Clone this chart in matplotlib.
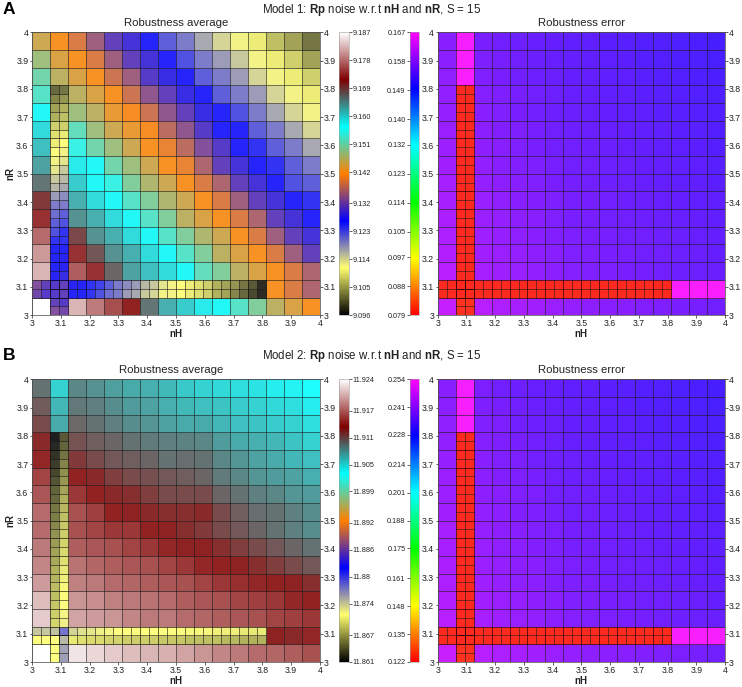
import numpy as np
import matplotlib
matplotlib.use('Agg')
import matplotlib.pyplot as plt
from matplotlib.cm import ScalarMappable
from matplotlib.colors import LinearSegmentedColormap, Normalize

plt.rcParams['font.family'] = ['Liberation Sans', 'DejaVu Sans']
plt.rcParams['mathtext.fontset'] = 'custom'
plt.rcParams['mathtext.bf'] = 'Liberation Sans:bold'
plt.rcParams['mathtext.rm'] = 'Liberation Sans'

n = np.nan

# coarse cells, rows from nR = 4 down to nR = 3, nan where the cell is refined
avg1 = [
    [9.145, 9.142, 9.139, 9.135, 9.131, 9.129, 9.126, 9.122, 9.120, 9.117, 9.114, 9.112, 9.110, 9.107, 9.105, 9.102],
    [9.148, 9.144, 9.142, 9.139, 9.135, 9.131, 9.129, 9.126, 9.123, 9.120, 9.118, 9.115, 9.112, 9.110, 9.108, 9.105],
    [9.151, 9.146, 9.144, 9.142, 9.138, 9.135, 9.130, 9.128, 9.126, 9.122, 9.120, 9.118, 9.114, 9.112, 9.110, 9.108],
    [9.153, n, 9.146, 9.144, 9.142, 9.138, 9.134, 9.131, 9.128, 9.126, 9.122, 9.120, 9.118, 9.114, 9.112, 9.110],
    [9.157, n, 9.148, 9.146, 9.143, 9.141, 9.138, 9.134, 9.131, 9.128, 9.126, 9.123, 9.120, 9.117, 9.114, 9.112],
    [9.159, n, 9.152, 9.148, 9.145, 9.143, 9.141, 9.137, 9.134, 9.130, 9.126, 9.126, 9.122, 9.120, 9.117, 9.114],
    [9.161, n, 9.155, 9.151, 9.148, 9.145, 9.142, 9.140, 9.137, 9.133, 9.130, 9.126, 9.125, 9.122, 9.120, 9.117],
    [9.163, n, 9.158, 9.157, 9.151, 9.148, 9.145, 9.142, 9.140, 9.136, 9.131, 9.129, 9.126, 9.125, 9.122, 9.120],
    [9.166, n, 9.160, 9.157, 9.155, 9.150, 9.147, 9.145, 9.142, 9.139, 9.136, 9.131, 9.129, 9.126, 9.123, 9.122],
    [9.170, n, 9.162, 9.159, 9.157, 9.153, 9.150, 9.147, 9.145, 9.142, 9.139, 9.135, 9.131, 9.129, 9.126, 9.125],
    [9.173, n, 9.164, 9.162, 9.159, 9.157, 9.153, 9.150, 9.146, 9.144, 9.142, 9.139, 9.136, 9.131, 9.129, 9.126],
    [9.177, n, 9.169, 9.164, 9.162, 9.159, 9.157, 9.153, 9.150, 9.147, 9.145, 9.142, 9.139, 9.135, 9.131, 9.129],
    [9.180, n, 9.173, 9.168, 9.164, 9.162, 9.159, 9.157, 9.153, 9.150, 9.146, 9.144, 9.142, 9.139, 9.135, 9.131],
    [9.182, n, 9.176, 9.173, 9.167, 9.163, 9.161, 9.159, 9.157, 9.152, 9.150, 9.146, 9.144, 9.142, 9.139, 9.136],
    [n, n, n, n, n, n, n, n, n, n, n, n, n, 9.142, 9.139, 9.136],
    [9.187, n, 9.182, 9.178, 9.175, 9.172, 9.166, 9.162, 9.160, 9.158, 9.157, 9.153, 9.150, 9.146, 9.144, 9.142],
]
# refined row nR 3.0625-3.125, half cells from nH = 3 to 3.8125
avg1_row_top = [9.133, 9.131, 9.130, 9.131, 9.127, 9.126, 9.125, 9.124, 9.122, 9.120, 9.119, 9.118, 9.116,
                9.115, 9.113, 9.112, 9.111, 9.110, 9.109, 9.108, 9.106, 9.105, 9.104, 9.102, 9.100, 9.097]
avg1_row_low = [9.132, 9.130, 9.130, 9.131, 9.126, 9.126, 9.125, 9.123, 9.121, 9.120, 9.118, 9.117, 9.115,
                9.114, 9.112, 9.112, 9.111, 9.110, 9.109, 9.108, 9.106, 9.105, 9.103, 9.101, 9.099, 9.097]
# refined column nH 3.0625-3.125, half cells from nR = 3.8125 down to 3, nan where the row above covers it
avg1_col_l = [9.101, 9.103, 9.105, 9.106, 9.108, 9.109, 9.110, 9.111, 9.112, 9.113, 9.115, 9.116, 9.118,
              9.120, 9.121, 9.122, 9.123, 9.125, 9.126, 9.126, 9.126, 9.127, n, n, 9.131, 9.133]
avg1_col_r = [9.102, 9.104, 9.106, 9.107, 9.108, 9.110, 9.111, 9.112, 9.113, 9.115, 9.116, 9.117, 9.119,
              9.120, 9.122, 9.123, 9.125, 9.125, 9.126, 9.127, 9.127, 9.128, n, n, 9.130, 9.132]

err1 = [
    [.1575, .1660, .1565, .1560, .1555, .1550, .1548, .1545, .1543, .1540, .1538, .1535, .1533, .1530, .1528, .1525],
    [.1578, .1665, .1568, .1562, .1557, .1552, .1550, .1547, .1545, .1542, .1540, .1537, .1535, .1532, .1530, .1527],
    [.1581, .1665, .1570, .1565, .1560, .1555, .1552, .1549, .1547, .1544, .1542, .1539, .1537, .1534, .1532, .1529],
    [.1584, n, .1573, .1567, .1562, .1557, .1554, .1551, .1549, .1546, .1544, .1541, .1539, .1536, .1534, .1531],
    [.1587, n, .1576, .1570, .1565, .1560, .1556, .1553, .1551, .1548, .1546, .1543, .1541, .1538, .1536, .1533],
    [.1590, n, .1578, .1572, .1567, .1562, .1558, .1555, .1553, .1550, .1548, .1545, .1543, .1540, .1538, .1535],
    [.1592, n, .1580, .1575, .1570, .1565, .1560, .1557, .1555, .1552, .1550, .1547, .1545, .1542, .1540, .1537],
    [.1595, n, .1583, .1577, .1572, .1567, .1563, .1559, .1557, .1554, .1552, .1549, .1547, .1544, .1542, .1539],
    [.1598, n, .1585, .1580, .1575, .1570, .1565, .1561, .1559, .1556, .1554, .1551, .1549, .1546, .1544, .1541],
    [.1600, n, .1588, .1582, .1577, .1572, .1567, .1563, .1561, .1558, .1556, .1553, .1551, .1548, .1546, .1543],
    [.1603, n, .1590, .1585, .1580, .1575, .1570, .1565, .1563, .1560, .1558, .1555, .1553, .1550, .1548, .1545],
    [.1606, n, .1593, .1587, .1582, .1577, .1572, .1567, .1565, .1562, .1560, .1557, .1555, .1552, .1550, .1547],
    [.1609, n, .1596, .1590, .1585, .1580, .1575, .1570, .1567, .1564, .1562, .1559, .1557, .1554, .1552, .1549],
    [.1612, n, .1600, .1593, .1588, .1583, .1578, .1573, .1570, .1566, .1564, .1561, .1559, .1556, .1554, .1552],
    [n, n, n, n, n, n, n, n, n, n, n, n, n, .1665, .1665, .1665],
    [.1625, n, .1612, .1606, .1600, .1595, .1590, .1585, .1580, .1577, .1574, .1571, .1568, .1565, .1562, .1560],
]
err1_row_top = [.0800, .0800, .0800, .0800, .0800, .0800, .0800, .0800, .0800, .0800, .0800, .0800, .0800,
                .0800, .0800, .0800, .0800, .0800, .0800, .0800, .0800, .0800, .0800, .0800, .0798, .0798]
err1_row_low = [.0800, .0800, .0800, .0800, .0800, .0800, .0800, .0800, .0800, .0800, .0800, .0800, .0800,
                .0800, .0800, .0800, .0800, .0800, .0800, .0800, .0800, .0800, .0800, .0800, .0798, .0798]
err1_col_l = [.0800, .0800, .0800, .0800, .0800, .0800, .0800, .0800, .0800, .0800, .0800, .0800, .0800,
              .0800, .0800, .0800, .0800, .0800, .0800, .0800, .0800, .0800, n, n, .0805, .0805]
err1_col_r = [.0800, .0800, .0800, .0800, .0800, .0800, .0800, .0800, .0800, .0800, .0800, .0800, .0800,
              .0800, .0800, .0800, .0800, .0800, .0800, .0800, .0800, .0800, n, n, .0805, .0805]

avg2 = [
    [11.9095, 11.9051, 11.9086, 11.9081, 11.9074, 11.9069, 11.9067, 11.9062, 11.9055, 11.9051, 11.9048, 11.9045, 11.9042, 11.9038, 11.9035, 11.9030],
    [11.9106, 11.9064, 11.9093, 11.9089, 11.9083, 11.9076, 11.9073, 11.9067, 11.9062, 11.9060, 11.9057, 11.9054, 11.9051, 11.9048, 11.9045, 11.9038],
    [11.9114, 11.9070, 11.9100, 11.9095, 11.9089, 11.9083, 11.9079, 11.9073, 11.9070, 11.9070, 11.9064, 11.9060, 11.9057, 11.9054, 11.9051, 11.9045],
    [11.9130, n, 11.9110, 11.9105, 11.9101, 11.9095, 11.9092, 11.9089, 11.9088, 11.9086, 11.9076, 11.9070, 11.9067, 11.9064, 11.9057, 11.9051],
    [11.9139, n, 11.9122, 11.9114, 11.9108, 11.9105, 11.9101, 11.9095, 11.9098, 11.9095, 11.9086, 11.9079, 11.9073, 11.9070, 11.9064, 11.9060],
    [11.9152, n, 11.9136, 11.9130, 11.9120, 11.9114, 11.9111, 11.9108, 11.9105, 11.9101, 11.9092, 11.9086, 11.9079, 11.9076, 11.9073, 11.9067],
    [11.9161, n, 11.9146, 11.9136, 11.9130, 11.9127, 11.9120, 11.9114, 11.9114, 11.9114, 11.9101, 11.9095, 11.9089, 11.9086, 11.9079, 11.9076],
    [11.9171, n, 11.9158, 11.9149, 11.9136, 11.9133, 11.9130, 11.9127, 11.9127, 11.9130, 11.9114, 11.9105, 11.9098, 11.9095, 11.9089, 11.9083],
    [11.9171, n, 11.9158, 11.9152, 11.9146, 11.9146, 11.9136, 11.9133, 11.9127, 11.9123, 11.9114, 11.9108, 11.9101, 11.9095, 11.9089, 11.9083],
    [11.9177, n, 11.9164, 11.9161, 11.9158, 11.9152, 11.9146, 11.9139, 11.9133, 11.9133, 11.9127, 11.9120, 11.9114, 11.9108, 11.9101, 11.9095],
    [11.9183, n, 11.9174, 11.9168, 11.9164, 11.9161, 11.9158, 11.9152, 11.9146, 11.9139, 11.9136, 11.9133, 11.9127, 11.9120, 11.9114, 11.9108],
    [11.9193, n, 11.9180, 11.9177, 11.9171, 11.9168, 11.9164, 11.9161, 11.9158, 11.9152, 11.9146, 11.9142, 11.9139, 11.9136, 11.9133, 11.9127],
    [11.9209, n, 11.9190, 11.9186, 11.9180, 11.9177, 11.9174, 11.9171, 11.9164, 11.9161, 11.9158, 11.9152, 11.9149, 11.9146, 11.9139, 11.9136],
    [11.9215, n, 11.9196, 11.9193, 11.9190, 11.9183, 11.9177, 11.9177, 11.9171, 11.9168, 11.9164, 11.9161, 11.9158, 11.9152, 11.9149, 11.9146],
    [n, n, n, n, n, n, n, n, n, n, n, n, n, 11.9133, 11.9130, 11.9139],
    [11.9240, n, 11.9227, 11.9221, 11.9215, 11.9209, 11.9205, 11.9202, 11.9196, 11.9190, 11.9183, 11.9177, 11.9171, 11.9168, 11.9164, 11.9158],
]
avg2_row_top = [11.8742, 11.8742, 11.8745, 11.8780, 11.8736, 11.8730, 11.8727, 11.8723, 11.8720, 11.8717, 11.8717, 11.8717, 11.8717,
                11.8717, 11.8717, 11.8714, 11.8714, 11.8711, 11.8711, 11.8711, 11.8708, 11.8708, 11.8708, 11.8705, 11.8705, 11.8705]
avg2_row_low = [11.8717, 11.8717, 11.8717, 11.8749, 11.8705, 11.8701, 11.8698, 11.8698, 11.8695, 11.8695, 11.8692, 11.8692, 11.8692,
                11.8692, 11.8689, 11.8689, 11.8689, 11.8686, 11.8686, 11.8686, 11.8686, 11.8682, 11.8682, 11.8679, 11.8679, 11.8679]
avg2_col_l = [11.8611, 11.8614, 11.8619, 11.8624, 11.8629, 11.8635, 11.8642, 11.8645, 11.8651, 11.8655, 11.8660, 11.8665, 11.8669,
              11.8672, 11.8675, 11.8678, 11.8681, 11.8684, 11.8686, 11.8689, 11.8692, 11.8695, n, n, 11.8717, 11.8717]
avg2_col_r = [11.8638, 11.8643, 11.8650, 11.8657, 11.8664, 11.8667, 11.8673, 11.8678, 11.8682, 11.8686, 11.8689, 11.8692, 11.8695,
              11.8698, 11.8701, 11.8705, 11.8708, 11.8711, 11.8714, 11.8717, 11.8720, 11.8723, n, n, 11.8758, 11.8761]

err2 = [
    [.2398, .2525, .2383, .2375, .2368, .2360, .2357, .2353, .2350, .2345, .2342, .2338, .2335, .2330, .2327, .2323],
    [.2402, .2532, .2387, .2378, .2371, .2363, .2360, .2356, .2353, .2348, .2345, .2341, .2338, .2333, .2330, .2326],
    [.2407, .2532, .2390, .2383, .2375, .2368, .2363, .2359, .2356, .2351, .2348, .2344, .2341, .2336, .2333, .2329],
    [.2411, n, .2395, .2386, .2378, .2371, .2366, .2362, .2359, .2354, .2351, .2347, .2344, .2339, .2336, .2332],
    [.2416, n, .2399, .2390, .2383, .2375, .2369, .2365, .2362, .2357, .2354, .2350, .2347, .2342, .2339, .2335],
    [.2420, n, .2402, .2393, .2386, .2378, .2372, .2368, .2365, .2360, .2357, .2353, .2350, .2345, .2342, .2338],
    [.2423, n, .2405, .2398, .2390, .2383, .2375, .2371, .2368, .2363, .2360, .2356, .2353, .2348, .2345, .2341],
    [.2428, n, .2410, .2401, .2393, .2386, .2380, .2374, .2371, .2366, .2363, .2359, .2356, .2351, .2348, .2344],
    [.2432, n, .2413, .2405, .2398, .2390, .2383, .2377, .2374, .2369, .2366, .2362, .2359, .2354, .2351, .2347],
    [.2435, n, .2417, .2408, .2401, .2393, .2386, .2380, .2377, .2372, .2369, .2365, .2362, .2357, .2354, .2350],
    [.2440, n, .2420, .2413, .2405, .2398, .2390, .2383, .2380, .2375, .2372, .2368, .2365, .2360, .2357, .2353],
    [.2444, n, .2425, .2416, .2408, .2401, .2393, .2386, .2383, .2378, .2375, .2371, .2368, .2363, .2360, .2356],
    [.2449, n, .2429, .2420, .2413, .2405, .2398, .2390, .2386, .2381, .2378, .2374, .2371, .2366, .2363, .2359],
    [.2453, n, .2435, .2425, .2417, .2410, .2402, .2395, .2390, .2384, .2381, .2377, .2374, .2369, .2366, .2363],
    [n, n, n, n, n, n, n, n, n, n, n, n, n, .2532, .2532, .2532],
    [.2473, n, .2453, .2444, .2435, .2428, .2420, .2413, .2405, .2401, .2396, .2392, .2387, .2383, .2378, .2375],
]
err2_row_top = [.1235, .1235, .1235, .1235, .1235, .1235, .1235, .1235, .1235, .1235, .1235, .1235, .1235,
                .1235, .1235, .1235, .1235, .1235, .1235, .1235, .1235, .1235, .1235, .1235, .1232, .1232]
err2_row_low = [.1235, .1235, .1235, .1235, .1235, .1235, .1235, .1235, .1235, .1235, .1235, .1235, .1235,
                .1235, .1235, .1235, .1235, .1235, .1235, .1235, .1235, .1235, .1235, .1235, .1232, .1232]
err2_col_l = [.1235, .1235, .1235, .1235, .1235, .1235, .1235, .1235, .1235, .1235, .1235, .1235, .1235,
              .1235, .1235, .1235, .1235, .1235, .1235, .1235, .1235, .1235, n, n, .1242, .1242]
err2_col_r = [.1235, .1235, .1235, .1235, .1235, .1235, .1235, .1235, .1235, .1235, .1235, .1235, .1235,
              .1235, .1235, .1235, .1235, .1235, .1235, .1235, .1235, .1235, n, n, .1242, .1242]

avg1_ticks = ['9.096', '9.105', '9.114', '9.123', '9.132', '9.142', '9.151', '9.160', '9.169', '9.178', '9.187']
err1_ticks = ['0.079', '0.088', '0.097', '0.105', '0.114', '0.123', '0.132', '0.140', '0.149', '0.158', '0.167']
avg2_ticks = ['11.861', '11.867', '11.874', '11.88', '11.886', '11.892', '11.899', '11.905', '11.911', '11.917', '11.924']
err2_ticks = ['0.122', '0.135', '0.148', '0.161', '0.175', '0.188', '0.201', '0.214', '0.228', '0.241', '0.254']
axis_ticks = [3, 3.1, 3.2, 3.3, 3.4, 3.5, 3.6, 3.7, 3.8, 3.9, 4]
axis_labels = ['3', '3.1', '3.2', '3.3', '3.4', '3.5', '3.6', '3.7', '3.8', '3.9', '4']

W, H = 742., 687.
TXT = '#222222'
EDGE = (0, 0, 0, 0.55)
CELL_ALPHA = 0.88

avg_stops = [(0, 0, 0), (1, 1, .43), (0, 0, 1), (1, .5, 0), (0, 1, 1), (.5, 0, 0), (1, 1, 1)]
err_stops = [(1, 0, 0), (1, 1, 0), (0, 1, 0), (0, 1, 1), (0, 0, 1), (1, 0, 1)]


def make_cmap(stops, alpha=1.0):
    return LinearSegmentedColormap.from_list('c', [s + (alpha,) for s in stops], N=512)


def px_axes(fig, x0, y0, x1, y1):
    return fig.add_axes([x0 / W, 1 - y1 / H, (x1 - x0) / W, (y1 - y0) / H])


def draw_panel(fig, box, coarse, row_top, row_low, col_l, col_r, stops, vmin, vmax, title, title_x, ylabel):
    ax = px_axes(fig, *box)
    cmap = make_cmap(stops, CELL_ALPHA)
    opts = dict(cmap=cmap, vmin=vmin, vmax=vmax, edgecolors=EDGE, linewidth=0.5, antialiased=True)
    edges = np.linspace(3, 4, 17)
    fine = np.linspace(3, 3.8125, 27)
    # coarse grid first, the refined strips go on top
    ax.pcolormesh(edges, edges, np.ma.masked_invalid(np.array(coarse)[::-1]), **opts)
    ax.pcolormesh(fine, [3.0625, 3.09375, 3.125], np.array([row_low, row_top]), **opts)
    ax.pcolormesh([3.0625, 3.09375, 3.125], fine,
                  np.ma.masked_invalid(np.array([col_l, col_r]).T[::-1]), **opts)
    ax.set_xlim(3, 4)
    ax.set_ylim(3, 4)
    ax.set_xticks(axis_ticks, axis_labels)
    ax.set_yticks(axis_ticks, axis_labels)
    ax.tick_params(length=1.8, width=0.5, pad=0.8, labelsize=6.3, colors=TXT,
                   left=True, right=True, labelleft=True, labelright=True)
    for s in ax.spines.values():
        s.set_linewidth(0.5)
        s.set_color('#444444')
    ax.set_xlabel('nH', fontsize=7, fontweight='bold', color=TXT, labelpad=1.2)
    if ylabel:
        ax.set_ylabel('nR', fontsize=7, fontweight='bold', color=TXT, labelpad=0.5)
    ax.set_title(title, fontsize=8.2, color=TXT, pad=4.2, x=title_x)
    return ax


def draw_cbar(fig, box, stops, ticks, side):
    cax = px_axes(fig, *box)
    vals = [float(t) for t in ticks]
    sm = ScalarMappable(Normalize(vals[0], vals[-1]), make_cmap(stops))
    cb = fig.colorbar(sm, cax=cax, ticklocation=side)
    cb.set_ticks(vals, labels=ticks)
    cb.ax.tick_params(length=2, width=0.5, pad=0.8, labelsize=5.2, colors=TXT)
    cb.outline.set_linewidth(0.4)
    cb.outline.set_edgecolor('#999999')
    cb.ax.minorticks_off()


fig = plt.figure(figsize=(W / 100, H / 100), dpi=100)

tops = [(32.3, 315.2), (379.3, 662)]
title_xs = [0.5, 0.485]
rows = [
    (avg1, avg1_row_top, avg1_row_low, avg1_col_l, avg1_col_r, avg1_ticks,
     err1, err1_row_top, err1_row_low, err1_col_l, err1_col_r, err1_ticks),
    (avg2, avg2_row_top, avg2_row_low, avg2_col_l, avg2_col_r, avg2_ticks,
     err2, err2_row_top, err2_row_low, err2_col_l, err2_col_r, err2_ticks),
]
for (y0, y1), tx, r in zip(tops, title_xs, rows):
    draw_panel(fig, (32, y0, 320, y1), r[0], r[1], r[2], r[3], r[4], avg_stops,
               float(r[5][0]), float(r[5][-1]), 'Robustness average', tx, True)
    draw_cbar(fig, (339, y0, 349, y1), avg_stops, r[5], 'right')
    draw_panel(fig, (437.7, y0, 725, y1), r[6], r[7], r[8], r[9], r[10], err_stops,
               float(r[11][0]), float(r[11][-1]), 'Robustness error', 0.5, False)
    draw_cbar(fig, (409.5, y0, 419, y1), err_stops, r[11], 'left')

for label, model, y_l, y_t in [('A', 'Model 1', 9.5, 9.5), ('B', 'Model 2', 356, 356)]:
    fig.text(3 / W, 1 - y_l / H, label, fontsize=12.5, fontweight='bold', color='black', va='center')
    fig.text(371.5 / W, 1 - y_t / H,
             model + r': $\mathbf{Rp}$ noise w.r.t $\mathbf{nH}$ and $\mathbf{nR}$, S = 15',
             fontsize=8.3, color=TXT, ha='center', va='center')

fig.savefig('out.png', dpi=100)
